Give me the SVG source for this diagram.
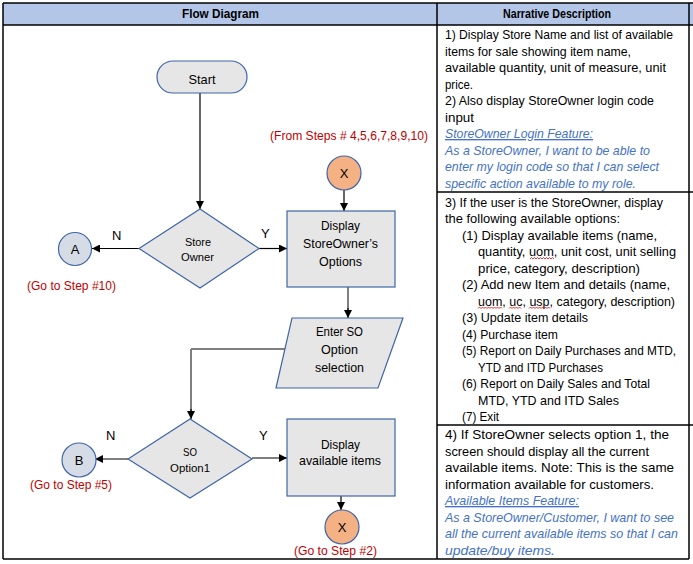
<svg xmlns="http://www.w3.org/2000/svg" width="693" height="564" viewBox="0 0 693 564">
  <style>
    text { font-family: "Liberation Sans", Arial, sans-serif; fill: #000; }
    .hd { font-size: 13.5px; font-weight: bold; }
    .t { font-size: 13.5px; }
    .story { font-size: 13.5px; font-style: italic; fill: #4472C4; }
    .ul { text-decoration: underline; }
    .lbl { font-size: 13px; }
    .sm { font-size: 11px; }
    .red { font-size: 13px; fill: #C00000; }
    .grid { stroke: #000; stroke-width: 1.5; fill: none; }
    .node { fill: #E7E6E6; stroke: #3F65A8; stroke-width: 1.2; }
    .conA { fill: #D6DCE5; stroke: #3F65A8; stroke-width: 1.2; }
    .conX { fill: #F4B183; stroke: #3F65A8; stroke-width: 1.2; }
    .edge { stroke: #000; stroke-width: 1.2; fill: none; }
    .edgeG { stroke: #7F7F7F; stroke-width: 2; fill: none; }
    .squig { stroke: #E00000; stroke-width: 0.8; fill: none; }
  </style>
  <defs>
    <marker id="arr" viewBox="0 0 10 10" refX="10" refY="5" markerWidth="8" markerHeight="8" markerUnits="userSpaceOnUse" orient="auto">
      <path d="M0,0 L10,5 L0,10 z" fill="#000"/>
    </marker>
  </defs>

  <!-- table frame -->
  <g id="table">
    <rect x="3" y="3" width="690" height="22" fill="#B4C6E7"/>
    <line class="grid" x1="3" y1="3" x2="693" y2="3"/>
    <line class="grid" x1="3" y1="25" x2="693" y2="25"/>
    <line class="grid" x1="3" y1="3" x2="3" y2="559"/>
    <line class="grid" x1="437" y1="3" x2="437" y2="559"/>
    <line class="grid" x1="689" y1="3" x2="689" y2="559"/>
    <line class="grid" x1="3" y1="559" x2="689" y2="559"/>
    <line class="grid" x1="437" y1="192" x2="693" y2="192"/>
    <line class="grid" x1="437" y1="425" x2="693" y2="425"/>
    <text class="hd" x="182" y="18" textLength="77" lengthAdjust="spacingAndGlyphs">Flow Diagram</text>
    <text class="hd" x="503" y="18" textLength="108" lengthAdjust="spacingAndGlyphs">Narrative Description</text>
  </g>

  <!-- narrative, row 1 -->
  <g id="narrative-1">
    <text class="t" x="445" y="39" textLength="228" lengthAdjust="spacingAndGlyphs">1) Display Store Name and list of available</text>
    <text class="t" x="445" y="55.5" textLength="186" lengthAdjust="spacingAndGlyphs">items for sale showing item name,</text>
    <text class="t" x="445" y="72" textLength="221" lengthAdjust="spacingAndGlyphs">available quantity, unit of measure, unit</text>
    <text class="t" x="445" y="88.5" textLength="28" lengthAdjust="spacingAndGlyphs">price.</text>
    <text class="t" x="445" y="105" textLength="209" lengthAdjust="spacingAndGlyphs">2) Also display StoreOwner login code</text>
    <text class="t" x="445" y="121.5" textLength="29" lengthAdjust="spacingAndGlyphs">input</text>
    <text class="story ul" x="445" y="138" textLength="148" lengthAdjust="spacingAndGlyphs">StoreOwner Login Feature:</text>
    <text class="story" x="445" y="154.5" textLength="205" lengthAdjust="spacingAndGlyphs">As a StoreOwner, I want to be able to</text>
    <text class="story" x="445" y="171" textLength="214" lengthAdjust="spacingAndGlyphs">enter my login code so that I can select</text>
    <text class="story" x="445" y="187.5" textLength="191" lengthAdjust="spacingAndGlyphs">specific action available to my role.</text>
  </g>

  <!-- narrative, row 2 -->
  <g id="narrative-2">
    <text class="t" x="445" y="206.5" textLength="218" lengthAdjust="spacingAndGlyphs">3) If the user is the StoreOwner, display</text>
    <text class="t" x="445" y="223" textLength="175" lengthAdjust="spacingAndGlyphs">the following available options:</text>
    <text class="t" x="462" y="239.5" textLength="195" lengthAdjust="spacingAndGlyphs">(1) Display available items (name,</text>
    <text class="t" x="478" y="256" textLength="198" lengthAdjust="spacingAndGlyphs">quantity, uom, unit cost, unit selling</text>
    <text class="t" x="478" y="272.5" textLength="162" lengthAdjust="spacingAndGlyphs">price, category, description)</text>
    <text class="t" x="462" y="289" textLength="208" lengthAdjust="spacingAndGlyphs">(2) Add new Item and details (name,</text>
    <text class="t" x="478" y="305.5" textLength="197" lengthAdjust="spacingAndGlyphs">uom, uc, usp, category, description)</text>
    <text class="t" x="462" y="322" textLength="126" lengthAdjust="spacingAndGlyphs">(3) Update item details</text>
    <text class="t" x="462" y="338.5" textLength="96" lengthAdjust="spacingAndGlyphs">(4) Purchase item</text>
    <text class="t" x="462" y="355" textLength="214" lengthAdjust="spacingAndGlyphs">(5) Report on Daily Purchases and MTD,</text>
    <text class="t" x="478" y="371.5" textLength="125" lengthAdjust="spacingAndGlyphs">YTD and ITD Purchases</text>
    <text class="t" x="462" y="388" textLength="188" lengthAdjust="spacingAndGlyphs">(6) Report on Daily Sales and Total</text>
    <text class="t" x="478" y="404.5" textLength="141" lengthAdjust="spacingAndGlyphs">MTD, YTD and ITD Sales</text>
    <text class="t" x="462" y="421" textLength="37" lengthAdjust="spacingAndGlyphs">(7) Exit</text>
    <!-- spell-check squiggles -->
    <path class="squig" d="M530,259 l1.5,-1.5 l1.5,1.5 l1.5,-1.5 l1.5,1.5 l1.5,-1.5 l1.5,1.5 l1.5,-1.5 l1.5,1.5 l1.5,-1.5 l1.5,1.5 l1.5,-1.5 l1.5,1.5 l1.5,-1.5 l1.5,1.5 l1.5,-1.5 l1.5,1.5"/>
    <path class="squig" d="M478,308.5 l1.5,-1.5 l1.5,1.5 l1.5,-1.5 l1.5,1.5 l1.5,-1.5 l1.5,1.5 l1.5,-1.5 l1.5,1.5 l1.5,-1.5 l1.5,1.5 l1.5,-1.5 l1.5,1.5 l1.5,-1.5 l1.5,1.5 l1.5,-1.5 l1.5,1.5"/>
    <path class="squig" d="M509,308.5 l1.5,-1.5 l1.5,1.5 l1.5,-1.5 l1.5,1.5 l1.5,-1.5 l1.5,1.5 l1.5,-1.5 l1.5,1.5"/>
    <path class="squig" d="M529,308.5 l1.5,-1.5 l1.5,1.5 l1.5,-1.5 l1.5,1.5 l1.5,-1.5 l1.5,1.5 l1.5,-1.5 l1.5,1.5 l1.5,-1.5 l1.5,1.5 l1.5,-1.5 l1.5,1.5 l1.5,-1.5 l1.5,1.5"/>
  </g>

  <!-- narrative, row 3 -->
  <g id="narrative-3">
    <text class="t" x="445" y="439" textLength="224" lengthAdjust="spacingAndGlyphs">4) If StoreOwner selects option 1, the</text>
    <text class="t" x="445" y="455.5" textLength="204" lengthAdjust="spacingAndGlyphs">screen should display all the current</text>
    <text class="t" x="445" y="472" textLength="229" lengthAdjust="spacingAndGlyphs">available items.  Note: This is the same</text>
    <text class="t" x="445" y="488.5" textLength="209" lengthAdjust="spacingAndGlyphs">information available for customers.</text>
    <text class="story ul" x="445" y="505" textLength="134" lengthAdjust="spacingAndGlyphs">Available Items Feature:</text>
    <text class="story" x="445" y="521.5" textLength="229" lengthAdjust="spacingAndGlyphs">As a StoreOwner/Customer, I want to see</text>
    <text class="story" x="445" y="538" textLength="233" lengthAdjust="spacingAndGlyphs">all the current available items so that I can</text>
    <text class="story" x="445" y="554.5" textLength="110" lengthAdjust="spacingAndGlyphs">update/buy items.</text>
  </g>

  <!-- connectors -->
  <g id="connectors">
    <line class="edge" x1="200" y1="93" x2="200" y2="209" marker-end="url(#arr)"/>
    <line class="edge" x1="344" y1="190" x2="344" y2="211" marker-end="url(#arr)"/>
    <line class="edge" x1="139" y1="248.5" x2="92" y2="248.5" marker-end="url(#arr)"/>
    <line class="edge" x1="259" y1="248.5" x2="287" y2="248.5" marker-end="url(#arr)"/>
    <line class="edgeG" x1="348" y1="287" x2="348" y2="310"/>
    <line class="edge" x1="348" y1="308" x2="348" y2="318" marker-end="url(#arr)"/>
    <line class="edge" x1="291" y1="349" x2="191" y2="349"/>
    <line class="edgeG" x1="191" y1="349" x2="191" y2="411"/>
    <line class="edge" x1="191" y1="409" x2="191" y2="419" marker-end="url(#arr)"/>
    <line class="edge" x1="128" y1="459" x2="95" y2="459" marker-end="url(#arr)"/>
    <line class="edge" x1="252" y1="458" x2="287" y2="458" marker-end="url(#arr)"/>
    <line class="edge" x1="341" y1="496" x2="341" y2="510" marker-end="url(#arr)"/>
    <text class="lbl" x="112" y="239.5">N</text>
    <text class="lbl" x="261" y="237.5">Y</text>
    <text class="lbl" x="106" y="439.5">N</text>
    <text class="lbl" x="259" y="439.5">Y</text>
  </g>

  <g id="start">
    <rect class="node" x="157" y="61" width="90" height="32" rx="16"/>
    <text class="lbl" x="188.5" y="83.5" textLength="27" lengthAdjust="spacingAndGlyphs">Start</text>
  </g>

  <g id="from-steps">
    <text class="red" x="270" y="139.5" textLength="158" lengthAdjust="spacingAndGlyphs">(From Steps # 4,5,6,7,8,9,10)</text>
  </g>

  <g id="connector-x-top">
    <circle class="conX" cx="344" cy="173" r="17"/>
    <text class="lbl" x="344" y="178" text-anchor="middle">X</text>
  </g>

  <g id="store-owner">
    <polygon class="node" points="139,248.5 200,209 259,248.5 200,288"/>
    <text class="sm" x="185" y="245.5" textLength="26" lengthAdjust="spacingAndGlyphs">Store</text>
    <text class="sm" x="181" y="260.5" textLength="33" lengthAdjust="spacingAndGlyphs">Owner</text>
  </g>

  <g id="connector-a">
    <circle class="conA" cx="75" cy="249" r="16.5"/>
    <text class="lbl" x="75" y="253.5" text-anchor="middle">A</text>
    <text class="red" x="27" y="289.5" textLength="89" lengthAdjust="spacingAndGlyphs">(Go to Step #10)</text>
  </g>

  <g id="display-options">
    <rect class="node" x="287" y="211" width="108" height="76"/>
    <text class="lbl" x="321" y="230" textLength="39" lengthAdjust="spacingAndGlyphs">Display</text>
    <text class="lbl" x="303" y="248" textLength="75" lengthAdjust="spacingAndGlyphs">StoreOwner’s</text>
    <text class="lbl" x="319" y="265.5" textLength="43" lengthAdjust="spacingAndGlyphs">Options</text>
  </g>

  <g id="enter-option">
    <polygon class="node" points="292,318 403,318 378,388 276,388"/>
    <text class="lbl" x="316" y="336" textLength="47" lengthAdjust="spacingAndGlyphs">Enter SO</text>
    <text class="lbl" x="321" y="354" textLength="37" lengthAdjust="spacingAndGlyphs">Option</text>
    <text class="lbl" x="315" y="372" textLength="49" lengthAdjust="spacingAndGlyphs">selection</text>
  </g>

  <g id="so-option1">
    <polygon class="node" points="128,459 190,419 252,459 190,498"/>
    <text class="sm" x="183" y="456" textLength="14" lengthAdjust="spacingAndGlyphs">SO</text>
    <text class="sm" x="170" y="471.5" textLength="40" lengthAdjust="spacingAndGlyphs">Option1</text>
  </g>

  <g id="connector-b">
    <circle class="conA" cx="79" cy="460" r="17"/>
    <text class="lbl" x="79" y="464.5" text-anchor="middle">B</text>
    <text class="red" x="30" y="489" textLength="82" lengthAdjust="spacingAndGlyphs">(Go to Step #5)</text>
  </g>

  <g id="display-items">
    <rect class="node" x="287" y="419" width="108" height="77"/>
    <text class="lbl" x="321" y="448.5" textLength="39" lengthAdjust="spacingAndGlyphs">Display</text>
    <text class="lbl" x="299" y="465" textLength="82" lengthAdjust="spacingAndGlyphs">available items</text>
  </g>

  <g id="connector-x-bottom">
    <circle class="conX" cx="342" cy="527" r="17"/>
    <text class="lbl" x="342" y="531.5" text-anchor="middle">X</text>
    <text class="red" x="294" y="555" textLength="83" lengthAdjust="spacingAndGlyphs">(Go to Step #2)</text>
  </g>
</svg>
